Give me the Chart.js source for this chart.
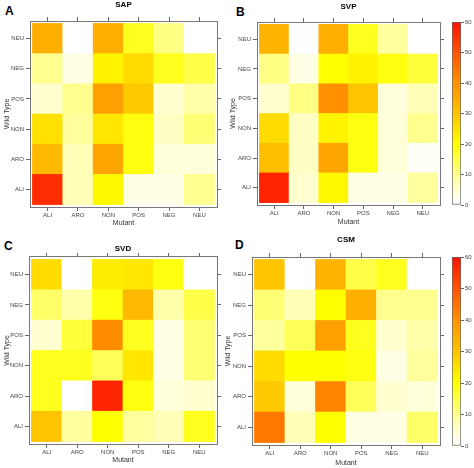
<!DOCTYPE html>
<html>
<head>
<meta charset="utf-8">
<script src="https://cdn.jsdelivr.net/npm/chart.js@4.4.1/dist/chart.umd.min.js"></script>
<style>
  html, body { margin: 0; padding: 0; background: #fff; }
  #fig { position: relative; width: 474px; height: 468px; overflow: hidden; font-family: "Liberation Sans", Arial, sans-serif; }
  #fig canvas { position: absolute; }
  .tag { position: absolute; font-weight: bold; font-size: 12px; line-height: 12px; color: #000; }
</style>
</head>
<body>
<div id="fig">
  <div class="tag" style="left:5px;top:5px">A</div>
  <div class="tag" style="left:236px;top:6px">B</div>
  <div class="tag" style="left:4px;top:240px">C</div>
  <div class="tag" style="left:235px;top:239px">D</div>
</div>
<script>
const categories = ['ALI', 'ARO', 'NON', 'POS', 'NEG', 'NEU'];
const colorTicks = [0, 10, 20, 30, 40, 50, 60];

// rows = wild type from bottom (ALI) to top (NEU), columns = mutant ALI..NEU
const sapValues = [
  [56, 7, 21, 3, 3, 10],
  [32, 7, 36, 19, 4, 4],
  [25, 9, 24, 19, 6, 12],
  [5, 10, 37, 29, 5, 8],
  [10, 3, 22, 26, 18, 15],
  [34, 0, 34, 18, 11, 0]
];
const svpValues = [
  [57, 5, 21, 3, 3, 9],
  [31, 6, 36, 19, 4, 1],
  [26, 6, 22, 19, 4, 10],
  [5, 11, 40, 30, 4, 7],
  [11, 3, 20, 22, 19, 16],
  [33, 0, 34, 18, 9, 0]
];
const svdValues = [
  [30, 9, 20, 9, 7, 18],
  [18, 0, 57, 19, 4, 5],
  [18, 18, 14, 24, 3, 12],
  [5, 16, 41, 18, 3, 12],
  [13, 8, 19, 32, 8, 15],
  [26, 0, 23, 24, 19, 0]
];
const csmValues = [
  [44, 7, 20, 3, 3, 13],
  [29, 4, 42, 14, 5, 4],
  [26, 20, 20, 19, 3, 9],
  [9, 14, 37, 18, 5, 8],
  [12, 7, 20, 34, 10, 10],
  [30, 0, 33, 15, 18, 0]
];

Chart.defaults.font.family = '"Liberation Sans", Arial, sans-serif';
Chart.defaults.color = '#333';

// white -> yellow up to 20, then yellow -> orange -> red
const hueStops = [[20, 60], [30, 46], [40, 34], [50, 20], [60, 4]];
function heat(v) {
  if (v <= 20) {
    const s = Math.pow(Math.max(v, 0) / 20, 1.2);
    return 'rgb(255,255,' + Math.round(255 * (1 - s)) + ')';
  }
  let h = hueStops[hueStops.length - 1][1];
  for (let i = 1; i < hueStops.length; i++) {
    const [v0, h0] = hueStops[i - 1], [v1, h1] = hueStops[i];
    if (v <= v1) { h = h0 + (h1 - h0) * (v - v0) / (v1 - v0); break; }
  }
  return 'rgb(255,' + Math.round(255 * h / 60) + ',0)';
}

function makeCanvas(x, y, w, h) {
  const cv = document.createElement('canvas');
  cv.width = w; cv.height = h;
  cv.style.left = x + 'px'; cv.style.top = y + 'px';
  cv.style.width = w + 'px'; cv.style.height = h + 'px';
  document.getElementById('fig').appendChild(cv);
  return cv;
}

const pad = 0.08;
const tickPos = categories.map((_, i) => i + 0.5);
const setTicks = s => { s.ticks = tickPos.map(v => ({ value: v })); };
const nameAt = v => categories[Math.round(v - 0.5)] || '';

function axis(extra) {
  return Object.assign({
    type: 'linear', min: -pad, max: 6 + pad, offset: false,
    afterBuildTicks: setTicks,
    grid: { drawOnChartArea: false, drawTicks: true, tickLength: 4, color: '#666', offset: false },
    border: { display: true, color: '#777', width: 1 }
  }, extra);
}

function heatChart(p) {
  const cv = makeCanvas(p.x, p.y, p.w, p.h);
  const b = p.box;
  const titleH = p.titleY + 4.8;
  const datasets = p.values.map((row, r) => ({
    data: categories.map((_, c) => ({ x: c + 0.5, y: [r, r + 1] })),
    backgroundColor: row.map(heat),
    borderWidth: 0,
    barPercentage: 1,
    categoryPercentage: 1,
    grouped: false
  }));
  new Chart(cv, {
    type: 'bar',
    data: { datasets },
    options: {
      responsive: false,
      animation: false,
      devicePixelRatio: 1,
      layout: { padding: 0 },
      plugins: {
        legend: { display: false },
        tooltip: { enabled: false },
        title: {
          display: true, text: p.title, fullSize: false, color: '#000',
          font: { size: 8, weight: 'bold' },
          padding: { top: p.titleY - 4.8, bottom: 0 }
        }
      },
      scales: {
        x: axis({
          position: 'bottom',
          ticks: { callback: nameAt, font: { size: 6 }, color: '#444', padding: 1, maxRotation: 0, autoSkip: false },
          title: { display: true, text: 'Mutant', font: { size: 7 }, color: '#333', padding: { top: 0, bottom: p.h - p.mutantY - 4.2 } },
          afterFit: s => { s.height = p.h - b.b; }
        }),
        x2: axis({
          position: 'top',
          ticks: { callback: () => '', font: { size: 6 }, padding: 0 },
          afterFit: s => { s.height = b.t - titleH; }
        }),
        y: axis({
          position: 'left',
          ticks: { callback: nameAt, font: { size: 6 }, color: '#444', padding: 2, autoSkip: false },
          title: { display: true, text: 'Wild Type', font: { size: 7 }, color: '#333', padding: { top: p.wildX - 4.2, bottom: 0 } },
          afterFit: s => { s.width = b.l; }
        }),
        y2: axis({
          position: 'right',
          ticks: { callback: () => '', font: { size: 6 }, padding: 0 },
          afterFit: s => { s.width = p.w - b.r; }
        })
      }
    }
  });
}

function colorbar(p) {
  const cv = makeCanvas(p.x, p.y, p.w, p.h);
  const lo = colorTicks[0], hi = colorTicks[colorTicks.length - 1];
  new Chart(cv, {
    type: 'bar',
    data: {
      labels: [''],
      datasets: [{
        data: [[lo, hi]],
        backgroundColor: ctx => {
          const area = ctx.chart.chartArea;
          if (!area) return null;
          const g = ctx.chart.ctx.createLinearGradient(0, area.bottom, 0, area.top);
          for (let v = lo; v <= hi; v += 2) g.addColorStop((v - lo) / (hi - lo), heat(v));
          return g;
        },
        borderColor: '#666',
        borderWidth: 1,
        borderSkipped: false,
        barPercentage: 1,
        categoryPercentage: 1
      }]
    },
    options: {
      responsive: false,
      animation: false,
      devicePixelRatio: 1,
      layout: { padding: { left: p.bar.l, top: p.bar.t, bottom: p.h - p.bar.b, right: 0 } },
      plugins: { legend: { display: false }, tooltip: { enabled: false } },
      scales: {
        x: { display: false },
        y: {
          position: 'right', min: lo, max: hi,
          afterBuildTicks: s => { s.ticks = colorTicks.map(v => ({ value: v })); },
          ticks: { font: { size: 6 }, color: '#444', padding: 1 },
          grid: { drawOnChartArea: false, tickLength: 3, color: '#666' },
          border: { display: false },
          afterFit: s => { s.width = p.w - p.bar.r; }
        }
      }
    }
  });
}

heatChart({ x: 0, y: 0, w: 226, h: 234, box: { l: 30, t: 21, r: 217, b: 207 }, titleY: 5, wildX: 7, mutantY: 223, title: 'SAP', values: sapValues });
heatChart({ x: 222, y: 0, w: 230, h: 234, box: { l: 35, t: 22, r: 218, b: 205 }, titleY: 7, wildX: 11, mutantY: 222, title: 'SVP', values: svpValues });
heatChart({ x: 0, y: 234, w: 226, h: 234, box: { l: 29, t: 23, r: 217, b: 210 }, titleY: 15, wildX: 7, mutantY: 226, title: 'SVD', values: svdValues });
heatChart({ x: 222, y: 234, w: 230, h: 234, box: { l: 30, t: 23, r: 218, b: 211 }, titleY: 6, wildX: 6, mutantY: 229, title: 'CSM', values: csmValues });
colorbar({ x: 440, y: 0, w: 34, h: 234, bar: { l: 12, r: 21, t: 22, b: 205 } });
colorbar({ x: 440, y: 234, w: 34, h: 234, bar: { l: 12, r: 21, t: 23, b: 212 } });
</script>
</body>
</html>
